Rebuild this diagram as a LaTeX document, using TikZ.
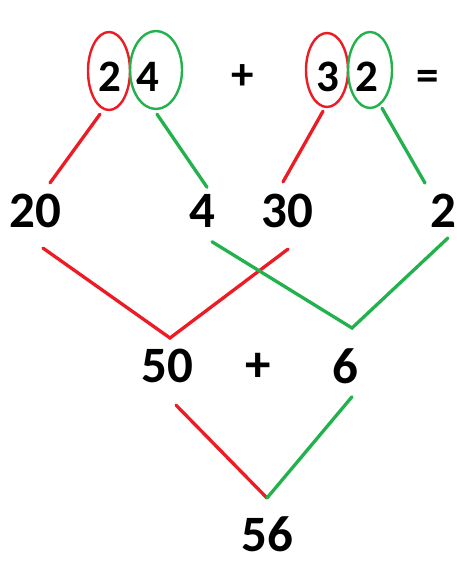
\documentclass[tikz,border=0pt]{standalone}
\usepackage{fontspec}
\setmainfont{Carlito}
\usetikzlibrary{shapes.geometric}
\definecolor{paintred}{RGB}{237,28,36}
\definecolor{paintgreen}{RGB}{34,177,76}
\tikzset{
  num/.style={
    font=\fontsize{51}{56}\selectfont\bfseries,
    inner sep=0pt,
    anchor=center
  },
  topnum/.style={num,font=\fontsize{45}{50}\selectfont\bfseries},
  ring/.style={
    ellipse,
    draw=#1,
    line width=2.4pt,
    inner sep=0pt
  },
  redlink/.style={draw=paintred,line width=3.3pt,line cap=round},
  greenlink/.style={draw=paintgreen,line width=3.3pt,line cap=round}
}

\begin{document}
\begin{tikzpicture}[x=1pt,y=-1pt]

  \useasboundingbox (0,0) rectangle (456,561);

  % first row: 24 + 32 =
  \node[topnum] at (110,77) (top2a) {2};
  \node[topnum] at (148,77) (top4) {4};
  \node[topnum] at (243,77) (plustop) {+};
  \node[topnum] at (328,77) (top3) {3};
  \node[topnum] at (367,77) (top2b) {2};
  \node[topnum] at (428,80) (equals) {=};

  \node[ring=paintred,minimum width=42pt,minimum height=78pt] at (109,71) (ring2a) {};
  \node[ring=paintgreen,minimum width=52pt,minimum height=78pt] at (156,70) (ring4) {};
  \node[ring=paintred,minimum width=42pt,minimum height=74pt] at (327,70) (ring3) {};
  \node[ring=paintgreen,minimum width=44pt,minimum height=76pt] at (370,70) (ring2b) {};

  % tens and ones
  \node[num] at (35,211) (tens20) {20};
  \node[num] at (202,211) (ones4) {4};
  \node[num] at (287,211) (tens30) {30};
  \node[num] at (443,211) (ones2) {2};

  \draw[redlink] ([xshift=-9pt,yshift=-3pt]ring2a.south) -- ([xshift=15pt,yshift=11pt]tens20.north);
  \draw[greenlink] ([xshift=1pt,yshift=-4pt]ring4.south) -- ([xshift=5pt,yshift=7pt]ones4.north);
  \draw[redlink] ([xshift=-4pt,yshift=-3pt]ring3.south) -- ([xshift=-4pt,yshift=12pt]tens30.north);
  \draw[greenlink] ([xshift=12pt,yshift=1pt]ring2b.south) -- ([xshift=-18pt,yshift=11pt]ones2.north);

  % partial sums
  \node[num] at (167,366) (sum50) {50};
  \node[num] at (258,367) (plusmid) {+};
  \node[num] at (345,366) (sum6) {6};

  \coordinate (join50) at (170,338);
  \coordinate (join6) at (352,328);

  \draw[redlink] ([xshift=8pt,yshift=-20pt]tens20.south) -- (join50)
    -- ([xshift=1pt,yshift=-21pt]tens30.south);
  \draw[greenlink] ([xshift=10pt,yshift=-14pt]ones4.south) -- (join6)
    -- ([xshift=5pt,yshift=-10pt]ones2.south);

  % total
  \node[num] at (267,534) (total) {56};
  \coordinate (join56) at (267,498);

  \draw[redlink] ([xshift=9pt,yshift=-22pt]sum50.south) -- (join56);
  \draw[greenlink] (join56) -- ([xshift=7pt,yshift=-13pt]sum6.south);

\end{tikzpicture}
\end{document}
